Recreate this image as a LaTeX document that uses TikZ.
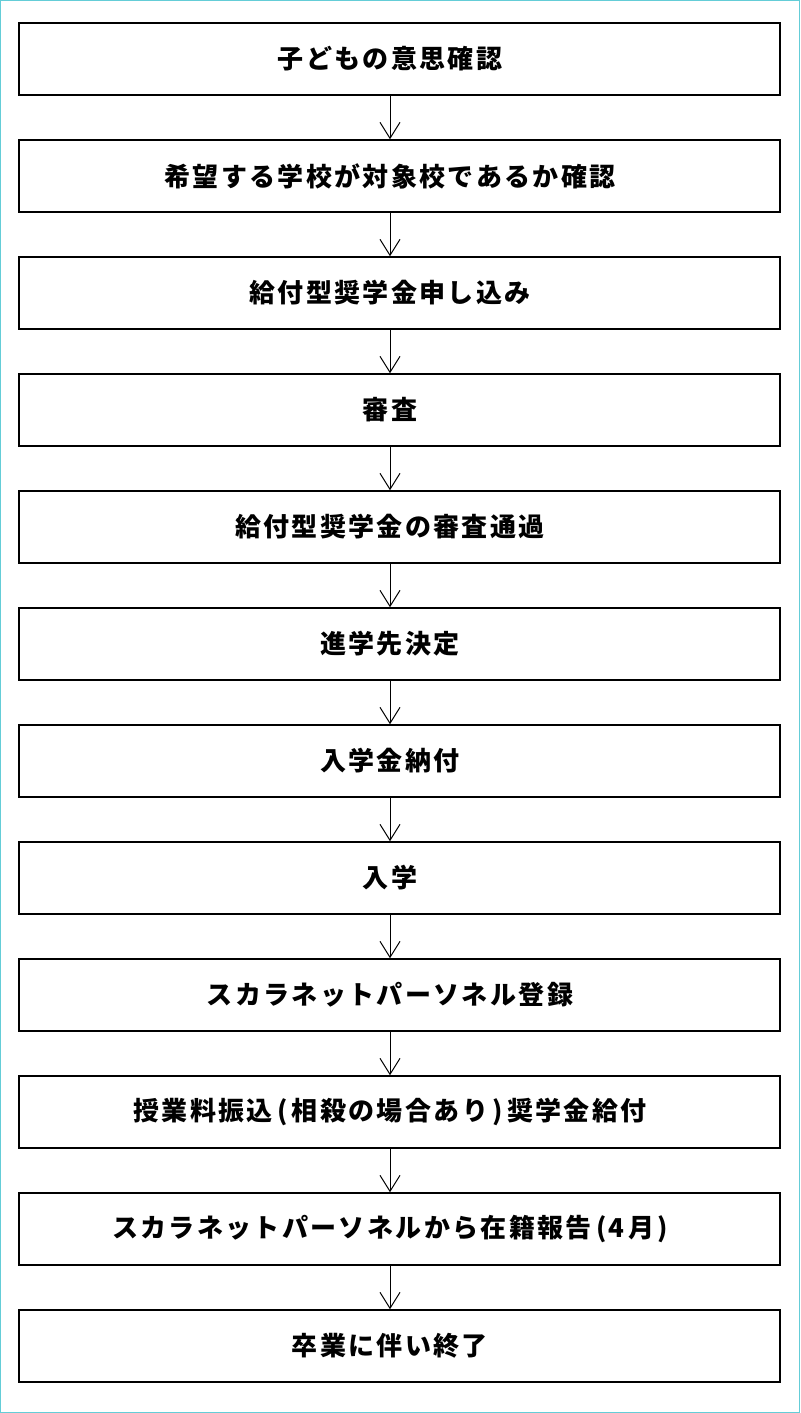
\documentclass[tikz,border=0pt]{standalone}
\usepackage{fontspec}
\setmainfont{Noto Sans CJK JP}[LetterSpace=9]
\usetikzlibrary{arrows.meta}
\definecolor{framecol}{RGB}{100,205,215}

\begin{document}
\begin{tikzpicture}[x=0.75pt,y=-0.75pt,
    stepbox/.style={draw,line width=1.1pt,minimum width=570.75pt,minimum height=54pt,
        inner sep=0pt,font=\bfseries\fontsize{19.5pt}{24pt}\selectfont},
    flow/.style={-{Straight Barb[length=12pt,width=15pt]},line width=0.75pt}]

    \useasboundingbox (0,0) rectangle (800,1413);
    \draw[framecol] (0.5,0.5) rectangle (799.5,1412.5);

    \foreach \t [count=\i] in {子どもの意思確認,希望する学校が対象校であるか確認,給付型奨学金申し込み,審査,
        給付型奨学金の審査通過,進学先決定,入学金納付,入学,スカラネットパーソネル登録,
        授業料振込\,(\,相殺の場合あり\,)\,奨学金給付,スカラネットパーソネルから在籍報告\,(4\,月),
        卒業に伴い終了} {
        \node[stepbox] (s\i) at (399.5,-58+117*\i) {\t\hspace*{14.25pt}};
    }

    \foreach \i [evaluate=\i as \j using int(\i+1)] in {1,...,11} {
        \draw[flow] ([xshift=-7.125pt]s\i.south) -- ([xshift=-7.125pt]s\j.north);
    }

\end{tikzpicture}
\end{document}
